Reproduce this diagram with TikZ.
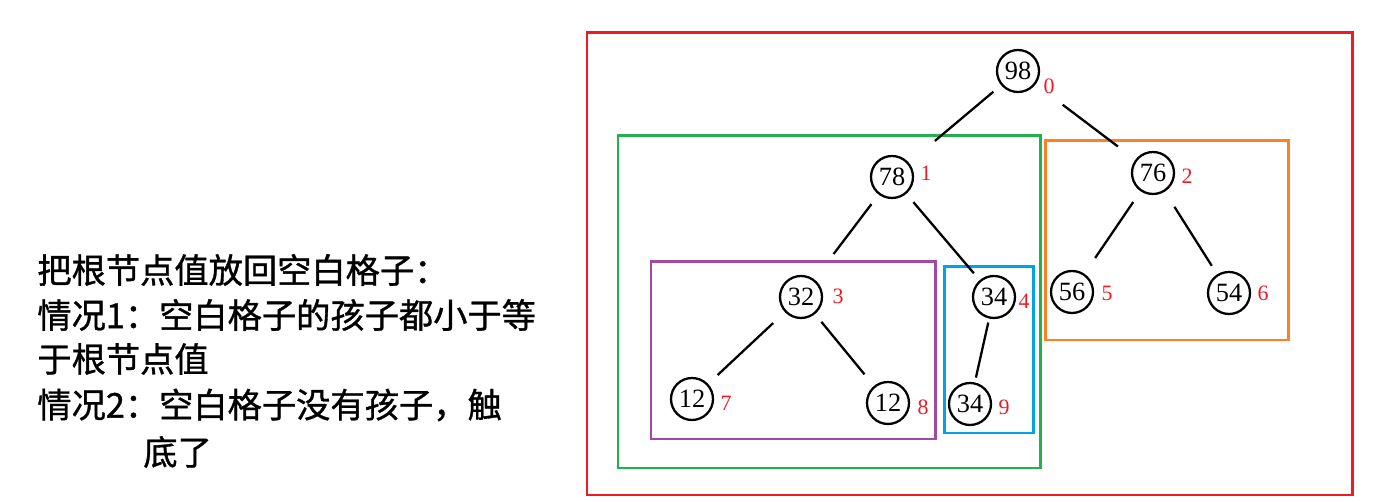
\documentclass[tikz,border=0pt]{standalone}
\usepackage{fontspec}
\setmainfont{Liberation Serif}
\newfontfamily\cjk[FakeBold=1]{Noto Sans CJK SC}

\begin{document}
\begin{tikzpicture}[x=0.02cm, y=-0.02cm,
  heapnode/.style={draw, circle, line width=1.3pt, minimum size=0.84cm, inner sep=0pt, font=\fontsize{15}{17}\selectfont},
  idx/.style={text=idxred, inner sep=0pt, font=\fontsize{12.5}{14}\selectfont},
  branch/.style={line width=1.3pt},
  regionbox/.style={line width=1.7pt},
  note/.style={anchor=west, inner sep=0pt, font=\cjk\fontsize{19.5}{23}\selectfont}]

\definecolor{idxred}{RGB}{237, 28, 36}
\definecolor{heapred}{RGB}{237, 28, 36}
\definecolor{leftgreen}{RGB}{34, 177, 76}
\definecolor{subpurple}{RGB}{163, 73, 164}
\definecolor{subblue}{RGB}{0, 162, 232}
\definecolor{rightorange}{RGB}{255, 127, 39}

\useasboundingbox (0, 0) rectangle (1377, 502);

% explanation
\node[note] (line1) at (37, 270) {把根节点值放回空白格子：};
\node[note] (line2) at (37, 315) {情况1：空白格子的孩子都小于等};
\node[note] (line3) at (37, 359) {于根节点值};
\node[note] (line4) at (37, 405) {情况2：空白格子没有孩子，触};
\node[note] (line5) at (143, 452) {底了};

% sub-heap boxes
\draw[regionbox, heapred] (587, 33) rectangle (1352, 495);
\draw[regionbox, leftgreen] (618, 136) rectangle (1040, 468);
\draw[regionbox, subpurple] (651, 262) rectangle (935, 439);
\draw[regionbox, subblue] (944, 267) rectangle (1033, 433);
\draw[regionbox, rightorange] (1045, 141) rectangle (1288, 340);

% heap
\node[heapnode] (h0) at (1018, 71) {98};
\node[heapnode] (h1) at (892, 177) {78};
\node[heapnode] (h2) at (1153, 173) {76};
\node[heapnode] (h3) at (801, 297) {32};
\node[heapnode] (h4) at (994, 297) {34};
\node[heapnode] (h5) at (1072, 292) {56};
\node[heapnode] (h6) at (1229, 293) {54};
\node[heapnode] (h7) at (692, 399) {12};
\node[heapnode] (h8) at (888, 403) {12};
\node[heapnode] (h9) at (970, 404) {34};

\node[idx] (i0) at (1049, 86) {0};
\node[idx] (i1) at (926, 173) {1};
\node[idx] (i2) at (1187, 176) {2};
\node[idx] (i3) at (838, 296) {3};
\node[idx] (i4) at (1024, 301) {4};
\node[idx] (i5) at (1107, 293) {5};
\node[idx] (i6) at (1263, 293) {6};
\node[idx] (i7) at (726, 403) {7};
\node[idx] (i8) at (923, 407) {8};
\node[idx] (i9) at (1004, 407) {9};

% gaps left as in the sketch
\draw[branch, shorten <=5.7pt, shorten >=19.3pt] (h0) -- (h1);
\draw[branch, shorten <=19.3pt, shorten >=12.5pt] (h0) -- (h2);
\draw[branch, shorten <=6.8pt, shorten >=18.1pt] (h1) -- (h3);
\draw[branch, shorten <=6.2pt, shorten >=5.1pt] (h1) -- (h4);
\draw[branch, shorten <=7.4pt, shorten >=10.8pt] (h2) -- (h5);
\draw[branch, shorten <=10.2pt, shorten >=5.7pt] (h2) -- (h6);
\draw[branch, shorten <=9.1pt, shorten >=7.4pt] (h3) -- (h7);
\draw[branch, shorten <=5.7pt, shorten >=8.5pt] (h3) -- (h8);
\draw[branch, shorten <=2.3pt, shorten >=2.8pt] (h4) -- (h9);

\end{tikzpicture}
\end{document}
